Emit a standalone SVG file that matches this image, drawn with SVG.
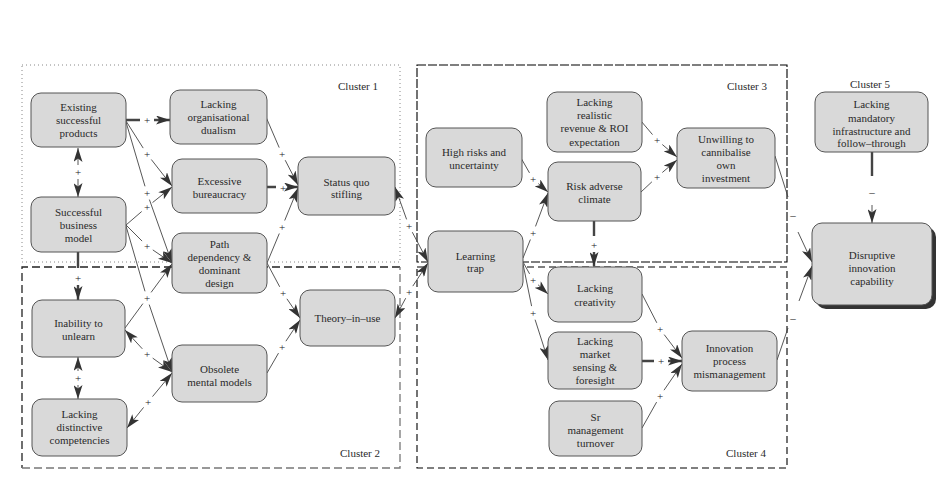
<svg xmlns="http://www.w3.org/2000/svg" width="952" height="501" viewBox="0 0 952 501">
<style>
.t{font-family:"Liberation Serif","Times New Roman",serif;font-size:11px;fill:#2a2a2a;text-anchor:middle}
.n{fill:#d9d9d9;stroke:#555;stroke-width:1}
.c{fill:none;stroke:#444;stroke-width:0.9}
.k{fill:none;stroke:#444;stroke-width:2.4}
.l{font-family:"Liberation Serif","Times New Roman",serif;font-size:11px;fill:#222;text-anchor:middle}
</style>
<defs>
<marker id="ah" viewBox="0 0 14 9" refX="14" refY="4.5" markerWidth="14" markerHeight="9" orient="auto-start-reverse" markerUnits="userSpaceOnUse">
<path d="M0,0 L14,4.5 L0,9 L3.5,4.5 z" fill="#333"/>
</marker>
</defs>
<rect width="952" height="501" fill="#fff"/>

<g id="clusters">
<rect x="22" y="65" width="378" height="197" fill="none" stroke="#888" stroke-width="1" stroke-dasharray="1 3"/>
<path d="M400,267 L22,267 L22,468" fill="none" stroke="#222" stroke-width="1.3" stroke-dasharray="8 4"/>
<path d="M22,468 L400,468 L400,267" fill="none" stroke="#777" stroke-width="1.3" stroke-dasharray="8 4"/>
<rect x="417" y="65" width="370" height="197" fill="none" stroke="#000" stroke-width="1.1" stroke-dasharray="9 2"/>
<rect x="417" y="267" width="370" height="201" fill="none" stroke="#000" stroke-width="1.1" stroke-dasharray="7 4"/>
<text class="t" x="358" y="90">Cluster 1</text>
<text class="t" x="360" y="457">Cluster 2</text>
<text class="t" x="747" y="90">Cluster 3</text>
<text class="t" x="746" y="457">Cluster 4</text>
<text class="t" x="870" y="88">Cluster 5</text>
</g>

<g id="connectors">
<path class="k" d="M126,120 L140,120 M154,120 L170,120" marker-end="url(#ah)"/>
<path class="c" d="M126,121 L143.2,148.1 M151.3,159.5 L172,186" marker-end="url(#ah)"/>
<path class="c" d="M126,122 L145,186.3 M149.4,199.6 L172,263" marker-end="url(#ah)"/>
<path class="c" d="M126,225 L141.7,211.5 M152.5,202.6 L172,187" marker-end="url(#ah)"/>
<path class="c" d="M126,225 L142.1,241.1 M152.8,249.9 L172,263" marker-end="url(#ah)"/>
<path class="c" d="M126,226 L145,291.3 M149.2,304.6 L172,372" marker-end="url(#ah)"/>
<path class="c" d="M125,328 L142.9,303.6 M151.1,292.4 L172,264" marker-end="url(#ah)"/>
<path class="c" d="M125,330 L142.3,348.8 M152.7,358.1 L172,372" marker-start="url(#ah)" marker-end="url(#ah)"/>
<path class="c" d="M127,428 L143.6,407.4 M152.5,396.6 L172,373" marker-start="url(#ah)" marker-end="url(#ah)"/>
<path class="c" d="M78,148 L78,165 M78,179 L78,197" marker-start="url(#ah)" marker-end="url(#ah)"/>
<path class="k" d="M78,252 L78,268 M78,285 L78,300" marker-end="url(#ah)"/>
<path class="c" d="M78,357 L78,371 M78,385 L78,399" marker-start="url(#ah)" marker-end="url(#ah)"/>
<path class="c" d="M266,117 L279.2,147.6 M285.2,160.2 L298,185" marker-end="url(#ah)"/>
<path class="k" d="M267,187 L276,187 M290,187 L298,187" marker-end="url(#ah)"/>
<path class="c" d="M267,263 L279.3,233.5 M284.7,220.5 L298,188" marker-end="url(#ah)"/>
<path class="c" d="M267,263 L279.7,286.8 M286.9,298.8 L300,318" marker-end="url(#ah)"/>
<path class="c" d="M267,373 L278.5,353.1 M285.9,341.2 L300,320" marker-end="url(#ah)"/>
<path class="c" d="M395,187 L406.6,219.4 M412.3,232.2 L428,262" marker-start="url(#ah)" marker-end="url(#ah)"/>
<path class="c" d="M395,318 L405.7,298.2 M412.8,286.1 L428,263" marker-start="url(#ah)" marker-end="url(#ah)"/>
<path class="c" d="M521,158 L529.5,172.9 M538.3,183.6 L548,192" marker-end="url(#ah)"/>
<path class="c" d="M523,258 L530.4,239.5 M535.5,226.4 L548,193" marker-end="url(#ah)"/>
<path class="c" d="M523,262 L529.6,273.9 M538.1,284.8 L548,294" marker-end="url(#ah)"/>
<path class="c" d="M523,264 L531.6,306.1 M535.1,319.7 L548,360" marker-end="url(#ah)"/>
<path class="k" d="M594,221 L594,236 M594,252 L594,266" marker-end="url(#ah)"/>
<path class="c" d="M641,121 L652.5,134.6 M662.3,144.5 L677,157" marker-end="url(#ah)"/>
<path class="c" d="M641,192 L651.9,181.8 M662.3,172.5 L677,160" marker-end="url(#ah)"/>
<path class="c" d="M642,294 L656.8,322.8 M664.2,334.6 L682,358" marker-end="url(#ah)"/>
<path class="k" d="M642,361 L654,361 M668,361 L682,361" marker-end="url(#ah)"/>
<path class="c" d="M642,428 L656.6,402.1 M664,390.2 L682,364" marker-end="url(#ah)"/>
<path class="c" d="M775,156 L788,197 M798,232 L812,262" marker-end="url(#ah)"/>
<path class="c" d="M777,360 L788,328 M799,301 L812,266" marker-end="url(#ah)"/>
<path class="k" d="M872,152 L872,176"/>
<path class="c" d="M872,205 L872,223" marker-end="url(#ah)"/>
<g id="signs">
<text class="l" x="147" y="124">+</text>
<text class="l" x="147" y="158">+</text>
<text class="l" x="147" y="197">+</text>
<text class="l" x="147" y="211">+</text>
<text class="l" x="147" y="250">+</text>
<text class="l" x="147" y="302">+</text>
<text class="l" x="147" y="358">+</text>
<text class="l" x="148" y="406">+</text>
<text class="l" x="78" y="176">+</text>
<text class="l" x="78" y="282">+</text>
<text class="l" x="78" y="382">+</text>
<text class="l" x="282" y="158">+</text>
<text class="l" x="283" y="192">+</text>
<text class="l" x="282" y="231">+</text>
<text class="l" x="283" y="297">+</text>
<text class="l" x="282" y="351">+</text>
<text class="l" x="409" y="230">+</text>
<text class="l" x="409" y="296">+</text>
<text class="l" x="533" y="183">+</text>
<text class="l" x="533" y="237">+</text>
<text class="l" x="533" y="284">+</text>
<text class="l" x="533" y="317">+</text>
<text class="l" x="594" y="249">+</text>
<text class="l" x="657" y="144">+</text>
<text class="l" x="657" y="181">+</text>
<text class="l" x="660" y="333">+</text>
<text class="l" x="661" y="365">+</text>
<text class="l" x="660" y="400">+</text>
<text class="l" x="793" y="219">–</text>
<text class="l" x="793" y="322">–</text>
<text class="l" x="872" y="196">–</text>
</g>
</g>

<g id="n1"><rect class="n" x="31" y="93" width="95" height="54" rx="10"/><text class="t" x="78.5" y="111">Existing</text><text class="t" x="78.5" y="124">successful</text><text class="t" x="78.5" y="137">products</text></g>
<g id="n2"><rect class="n" x="31" y="197" width="95" height="55" rx="10"/><text class="t" x="78.5" y="216">Successful</text><text class="t" x="78.5" y="229">business</text><text class="t" x="78.5" y="242">model</text></g>
<g id="n3"><rect class="n" x="32" y="300" width="93" height="57" rx="10"/><text class="t" x="78.5" y="327">Inability to</text><text class="t" x="78.5" y="340">unlearn</text></g>
<g id="n4"><rect class="n" x="32" y="399" width="95" height="57" rx="10"/><text class="t" x="79.5" y="418">Lacking</text><text class="t" x="79.5" y="431">distinctive</text><text class="t" x="79.5" y="444">competencies</text></g>
<g id="n5"><rect class="n" x="170" y="90" width="97" height="54" rx="10"/><text class="t" x="218.5" y="108">Lacking</text><text class="t" x="218.5" y="121">organisational</text><text class="t" x="218.5" y="134">dualism</text></g>
<g id="n6"><rect class="n" x="172" y="159" width="95" height="54" rx="10"/><text class="t" x="219.5" y="185">Excessive</text><text class="t" x="219.5" y="198">bureaucracy</text></g>
<g id="n7"><rect class="n" x="172" y="233" width="95" height="60" rx="10"/><text class="t" x="219.5" y="248">Path</text><text class="t" x="219.5" y="261">dependency &amp;</text><text class="t" x="219.5" y="274">dominant</text><text class="t" x="219.5" y="287">design</text></g>
<g id="n8"><rect class="n" x="172" y="345" width="95" height="57" rx="10"/><text class="t" x="219.5" y="373">Obsolete</text><text class="t" x="219.5" y="386">mental models</text></g>
<g id="n9"><rect class="n" x="298" y="157" width="97" height="58" rx="10"/><text class="t" x="346.5" y="186">Status quo</text><text class="t" x="346.5" y="198">stifling</text></g>
<g id="n10"><rect class="n" x="300" y="290" width="95" height="56" rx="10"/><text class="t" x="347.5" y="322">Theory–in–use</text></g>
<g id="n11"><rect class="n" x="426" y="128" width="96" height="59" rx="10"/><text class="t" x="474" y="156">High risks and</text><text class="t" x="474" y="169">uncertainty</text></g>
<g id="n12"><rect class="n" x="547" y="92" width="95" height="60" rx="10"/><text class="t" x="594.5" y="106">Lacking</text><text class="t" x="594.5" y="119">realistic</text><text class="t" x="594.5" y="132">revenue &amp; ROI</text><text class="t" x="594.5" y="146">expectation</text></g>
<g id="n13"><rect class="n" x="548" y="162" width="93" height="59" rx="10"/><text class="t" x="594.5" y="190">Risk adverse</text><text class="t" x="594.5" y="203">climate</text></g>
<g id="n14"><rect class="n" x="428" y="231" width="95" height="61" rx="10"/><text class="t" x="475.5" y="260">Learning</text><text class="t" x="475.5" y="272">trap</text></g>
<g id="n15"><rect class="n" x="548" y="267" width="94" height="55" rx="10"/><text class="t" x="595" y="292">Lacking</text><text class="t" x="595" y="306">creativity</text></g>
<g id="n16"><rect class="n" x="548" y="332" width="94" height="57" rx="10"/><text class="t" x="595" y="345">Lacking</text><text class="t" x="595" y="358">market</text><text class="t" x="595" y="371">sensing &amp;</text><text class="t" x="595" y="384">foresight</text></g>
<g id="n17"><rect class="n" x="549" y="401" width="93" height="55" rx="10"/><text class="t" x="595.5" y="421">Sr</text><text class="t" x="595.5" y="434">management</text><text class="t" x="595.5" y="447">turnover</text></g>
<g id="n18"><rect class="n" x="677" y="128" width="98" height="60" rx="10"/><text class="t" x="726" y="143">Unwilling to</text><text class="t" x="726" y="156">cannibalise</text><text class="t" x="726" y="169">own</text><text class="t" x="726" y="182">investment</text></g>
<g id="n19"><rect class="n" x="682" y="331" width="95" height="60" rx="10"/><text class="t" x="729.5" y="352">Innovation</text><text class="t" x="729.5" y="365">process</text><text class="t" x="729.5" y="378">mismanagement</text></g>
<g id="n20"><rect class="n" x="815" y="92" width="113" height="60" rx="10"/><text class="t" x="871.5" y="108">Lacking</text><text class="t" x="871.5" y="122">mandatory</text><text class="t" x="871.5" y="135">infrastructure and</text><text class="t" x="871.5" y="147">follow–through</text></g>
<g id="n21"><rect x="816" y="227" width="120" height="82" rx="10" fill="#333"/><rect class="n" x="812" y="223" width="120" height="82" rx="10"/><text class="t" x="872" y="259">Disruptive</text><text class="t" x="872" y="272">innovation</text><text class="t" x="872" y="285">capability</text></g>
</svg>
